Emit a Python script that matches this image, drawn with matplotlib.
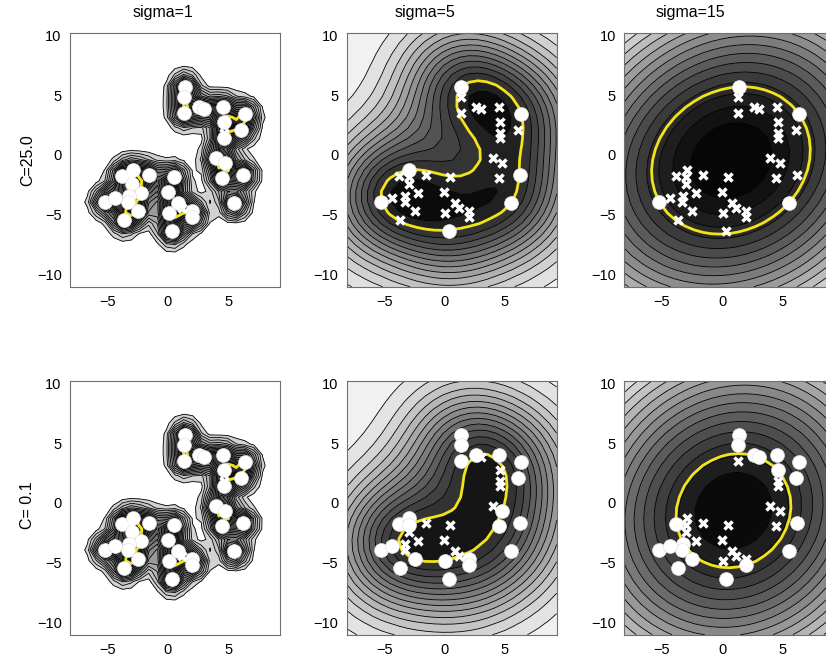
import numpy as np
import matplotlib
matplotlib.use('Agg')
import matplotlib.pyplot as plt
from matplotlib.colors import LinearSegmentedColormap, TwoSlopeNorm

plt.rcParams['font.family'] = ['Liberation Sans', 'DejaVu Sans']

# data points
xs = [1.41, 6.38, 5.52, -5.22, 1.33, 1.33, 2.62, 3.04, 4.56, 4.64, 4.64, 4.64,
      6.10, 4.01, 4.78, 4.50, 6.22, -3.78, -2.90, -2.96, -2.96, -1.57, 0.50, 0.00,
      -2.18, -3.23, -3.29, -4.34, -2.46, -3.65, 0.08, 0.86, 1.19, 2.02, 2.02, 0.36]
ys = [5.69, 3.42, -4.03, -3.89, 4.81, 3.47, 3.97, 3.81, 3.97, 2.78, 1.81, 1.39,
      2.08, -0.22, -0.69, -1.94, -1.67, -1.72, -1.25, -1.86, -2.42, -1.67, -1.86, -3.06,
      -3.19, -3.42, -3.97, -3.56, -4.72, -5.42, -4.81, -4.03, -4.44, -4.64, -5.19, -6.31]

sigmas = [1, 5, 15]
C_values = [25.0, 0.1]
# upper bound on the alphas actually used for each row
alpha_caps = [25.0, 0.055]
col_titles = ['sigma=1', 'sigma=5', 'sigma=15']
row_labels = ['C=25.0', 'C= 0.1']
top_grey = [1.0, 0.97, 0.9]

xlim = (-8.1, 9.3)
ylim = (-11.0, 10.2)


def kernel(A, B, s):
    d2 = ((A[:, None, :] - B[None, :, :]) ** 2).sum(-1)
    return np.exp(-d2 / s ** 2)


# support vector data description, solved with a small SMO loop
def svdd(X, s, C):
    n = len(X)
    K = kernel(X, X, s)
    a = np.ones(n) / n
    g = 2 * K @ a
    for it in range(20000):
        up = np.where(a < C - 1e-12)[0]
        dn = np.where(a > 1e-12)[0]
        i = up[np.argmin(g[up])]
        j = dn[np.argmax(g[dn])]
        if g[j] - g[i] < 1e-9:
            break
        den = 2 * (K[i, i] + K[j, j] - 2 * K[i, j])
        d = (g[j] - g[i]) / max(den, 1e-12)
        d = min(d, C - a[i], a[j])
        a[i] += d
        a[j] -= d
        g += 2 * d * (K[:, i] - K[:, j])
    aKa = a @ K @ a
    Dx = 1 - 2 * K @ a + aKa
    free = (a > 1e-6) & (a < C - 1e-6)
    if free.any():
        R2 = Dx[free].mean()
    else:
        R2 = Dx[a > 1e-6].mean()
    return a, aKa, R2


X = np.column_stack([xs, ys])
gx = np.linspace(xlim[0], xlim[1], 25)
gy = np.linspace(ylim[0], ylim[1], 25)
GX, GY = np.meshgrid(gx, gy)
G = np.column_stack([GX.ravel(), GY.ravel()])

fig = plt.figure(figsize=(8.26, 6.62), dpi=100)

lefts = [70 / 826, 346.7 / 826, 624.3 / 826]
bottoms = [1 - 286.7 / 662, 1 - 634.7 / 662]
w = 210 / 826
h = 254 / 662

for r, C in enumerate(alpha_caps):
    for c, s in enumerate(sigmas):
        ax = fig.add_axes([lefts[c], bottoms[r], w, h])
        a, aKa, R2 = svdd(X, s, C)
        D = (1 - 2 * kernel(G, X, s) @ a + aKa).reshape(GX.shape)
        levels = np.linspace(D.min(), D.max(), 16)
        tg = top_grey[c]
        if s == 1:
            cmap = LinearSegmentedColormap.from_list(
                'g', [(0, (0, 0, 0)), (0.5, (0.15, 0.15, 0.15)), (1, (0.85, 0.85, 0.85))])
            fill_levels = levels[:-1]  # leave the flat outside white
            norm = TwoSlopeNorm(vcenter=R2, vmin=D.min(), vmax=levels[-2])
        else:
            cmap = LinearSegmentedColormap.from_list(
                'g', [(0, (0, 0, 0)), (0.5, (0.17, 0.17, 0.17)), (1, (tg, tg, tg))])
            fill_levels = levels
            norm = TwoSlopeNorm(vcenter=R2, vmin=D.min(), vmax=D.max())
        ax.contourf(GX, GY, D, levels=fill_levels, cmap=cmap, norm=norm)
        ax.contour(GX, GY, D, levels=levels[:-1], colors='k', linewidths=0.6)
        ax.contour(GX, GY, D, levels=[R2], colors='#f2e31b', linewidths=2)
        sv = a > 1e-6
        ax.plot(X[sv, 0], X[sv, 1], 'o', ms=10, mfc='white', mec='#e0e0e0', mew=0.5)
        ax.plot(X[~sv, 0], X[~sv, 1], 'x', ms=6, mec='white', mew=2.5)
        ax.set_xlim(xlim)
        ax.set_ylim(ylim)
        ax.set_xticks([-5, 0, 5])
        ax.set_yticks([-10, -5, 0, 5, 10])
        ax.tick_params(length=0, labelsize=10.5, pad=6)
        for sp in ax.spines.values():
            sp.set_color('#707070')

for x, t in zip([163, 425, 690], col_titles):
    fig.text(x / 826, 1 - 12 / 662, t, ha='center', va='center', fontsize=11.5)
for y, t in zip([160, 505], row_labels):
    fig.text(28 / 826, 1 - y / 662, t, ha='center', va='center', rotation=90, fontsize=11.5)

fig.savefig('out.png', dpi=100)
